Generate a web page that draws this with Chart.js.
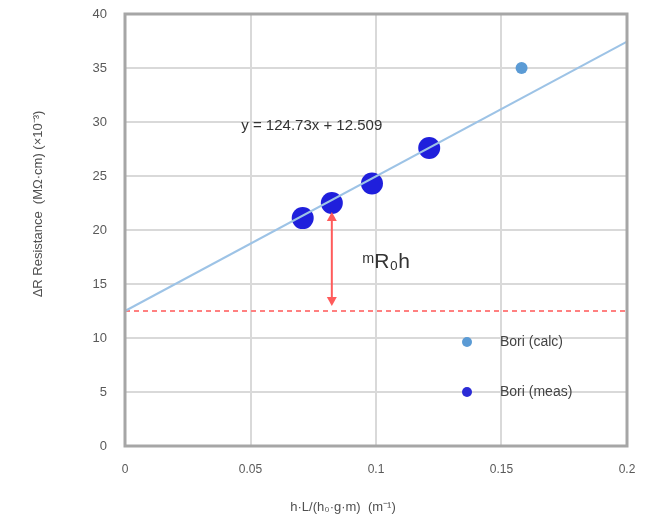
<!DOCTYPE html>
<html>
<head>
<meta charset="utf-8">
<script src="https://cdn.jsdelivr.net/npm/chart.js@4"></script>
<style>
  body { margin: 0; background: #fff; }
  #wrap { width: 660px; height: 532px; }
</style>
</head>
<body>
<div id="wrap"><canvas id="fitCanvas"></canvas></div>
<script>
// values
const measX = [0.0708, 0.0824, 0.0984, 0.1212];
const measY = [21.1, 22.5, 24.3, 27.6];
const predX = [0.158];
const predY = [35.0];
const fitSlope = 124.7;
const fitIntercept = 12.5;
const xRange = [0, 0.2];
const xTicks = [0, 0.05, 0.1, 0.15, 0.2];
const yTicks = [0, 5, 10, 15, 20, 25, 30, 35, 40];
const legendLabels = ["Bori (calc)", "Bori (meas)"];
const arrowX = 0.0824;

const fitLine = xRange.map(x => ({ x: x, y: fitSlope * x + fitIntercept }));
const baseLine = xRange.map(x => ({ x: x, y: fitIntercept }));

const extras = {
    id: "extras",
    afterDatasetsDraw(chart) {
        const ctx = chart.ctx, xs = chart.scales.x, ys = chart.scales.y, a = chart.chartArea;
        ctx.save();
        // red double arrow
        const px = xs.getPixelForValue(arrowX);
        const top = ys.getPixelForValue(fitSlope * arrowX + fitIntercept) + 12;
        const bot = ys.getPixelForValue(fitIntercept) - 5;
        ctx.strokeStyle = "#ff5b5b"; ctx.fillStyle = "#ff5b5b"; ctx.lineWidth = 2;
        ctx.beginPath(); ctx.moveTo(px, top + 6); ctx.lineTo(px, bot - 6); ctx.stroke();
        ctx.beginPath(); ctx.moveTo(px, top); ctx.lineTo(px - 5, top + 9); ctx.lineTo(px + 5, top + 9); ctx.fill();
        ctx.beginPath(); ctx.moveTo(px, bot); ctx.lineTo(px - 5, bot - 9); ctx.lineTo(px + 5, bot - 9); ctx.fill();
        // texts
        ctx.fillStyle = "#333";
        ctx.textAlign = "center"; ctx.textBaseline = "middle";
        ctx.font = "15px 'Liberation Sans', Arial";
        ctx.fillText("y = 124.73x + 12.509", xs.getPixelForValue(0.0744), ys.getPixelForValue(29.6));
        ctx.font = "21px 'Liberation Sans', Arial";
        ctx.fillText("ᵐR₀h", xs.getPixelForValue(0.104), ys.getPixelForValue(17.0));
        // axis titles
        ctx.fillStyle = "#505050";
        ctx.font = "13px 'Liberation Sans', Arial";
        ctx.fillText("h·L/(h₀·g·m)  (m⁻¹)", 343, 507);
        ctx.save();
        ctx.translate(38, 204); ctx.rotate(-Math.PI / 2);
        ctx.fillText("ΔR Resistance  (MΩ·cm) (×10⁻³)", 0, 0);
        ctx.restore();
        // legend
        const cols = ["#5b9bd5", "#2b2bd6"];
        ctx.font = "14px 'Liberation Sans', Arial";
        ctx.textAlign = "left";
        legendLabels.forEach((t, i) => {
            const y = 342 + i * 50;
            ctx.fillStyle = cols[i];
            ctx.beginPath(); ctx.arc(467, y, 5, 0, Math.PI * 2); ctx.fill();
            ctx.fillStyle = "#444";
            ctx.fillText(t, 500, y);
        });
        // frame
        ctx.strokeStyle = "#a6a6a6"; ctx.lineWidth = 3;
        ctx.strokeRect(a.left, a.top, a.right - a.left, a.bottom - a.top);
        ctx.restore();
    }
};

new Chart(document.getElementById("fitCanvas"), {
    type: "scatter",
    data: {
        datasets: [
            { type: "line", data: fitLine, borderColor: "#9dc3e6", borderWidth: 2, pointRadius: 0, fill: false },
            { type: "line", data: baseLine, borderColor: "#ff8080", borderWidth: 2, borderDash: [5, 4], pointRadius: 0, fill: false },
            { data: predX.map((x, i) => ({ x: x, y: predY[i] })), backgroundColor: "#5b9bd5", borderWidth: 0, pointRadius: 6 },
            { data: measX.map((x, i) => ({ x: x, y: measY[i] })), backgroundColor: "#1f1fdc", borderWidth: 0, pointRadius: 11 }
        ]
    },
    options: {
        responsive: true,
        maintainAspectRatio: false,
        animation: false,
        layout: { padding: { left: 0, top: 0, right: 33, bottom: 0 } },
        plugins: { legend: { display: false }, tooltip: { enabled: false } },
        scales: {
            x: {
                type: "linear", min: 0, max: 0.2,
                afterBuildTicks: s => { s.ticks = xTicks.map(v => ({ value: v })); },
                afterFit: s => { s.height = 86; s.paddingLeft = 0; s.paddingRight = 0; },
                grid: { color: "#d9d9d9", lineWidth: 2, tickLength: 0 },
                border: { display: false },
                ticks: { color: "#595959", padding: 16, font: { size: 12, family: "'Liberation Sans', Arial" }, maxRotation: 0,
                         callback: v => String(v) }
            },
            y: {
                type: "linear", min: 0, max: 40,
                afterBuildTicks: s => { s.ticks = yTicks.map(v => ({ value: v })); },
                afterFit: s => { s.width = 125; s.paddingTop = 14; s.paddingBottom = 0; },
                grid: { color: "#d9d9d9", lineWidth: 2, tickLength: 0 },
                border: { display: false },
                ticks: { color: "#595959", padding: 18, font: { size: 13, family: "'Liberation Sans', Arial" } }
            }
        }
    },
    plugins: [extras]
});
</script>
</body>
</html>
